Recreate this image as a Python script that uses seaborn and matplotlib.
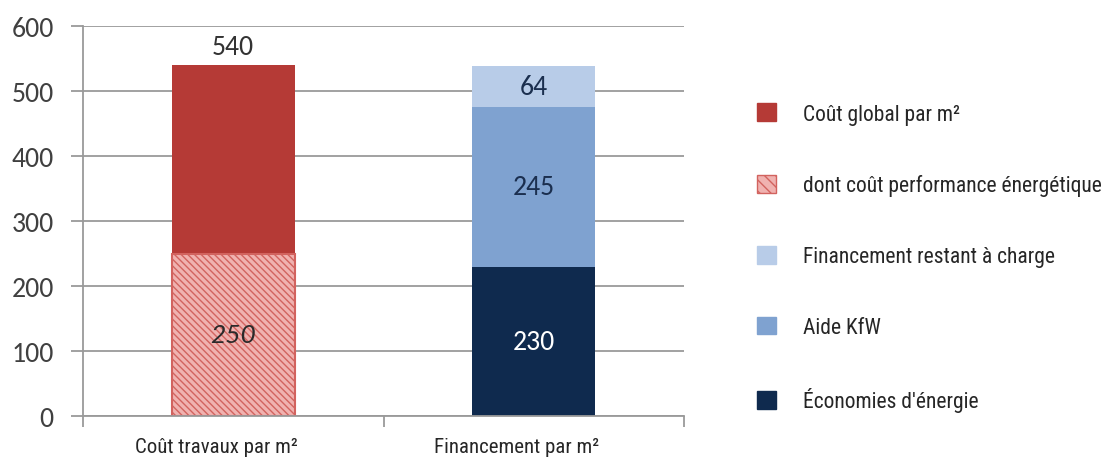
import matplotlib
matplotlib.use("Agg")
import matplotlib.pyplot as plt
from matplotlib.patches import Patch
from matplotlib.transforms import ScaledTranslation
import pandas as pd
import seaborn as sns

# ── data ──────────────────────────────────────────────
CATEGORIES = ["Coût travaux par m²", "Financement par m²"]
COST_LABELS = ["Coût global par m²", "dont coût performance énergétique"]
COST_VALUES = [540, 250]
FIN_LABELS = ["Économies d'énergie", "Aide KfW", "Financement restant à charge"]
FIN_VALUES = [230, 245, 64]
Y_TICKS = [0, 100, 200, 300, 400, 500, 600]

# ── style ─────────────────────────────────────────────
RED = "#B53A36"
HATCH_FILL = "#F0B2B0"
HATCH_LINE = "#D2635F"
FIN_COLORS = ["#0F2A4E", "#7FA2D0", "#B8CCE8"]
FIN_TEXT = ["white", "#1B2F4F", "#1B2F4F"]
GRID = "#9A9A9A"

sns.set_theme(style="white")
plt.rcParams["font.family"] = ["Carlito", "Lato", "DejaVu Sans"]
plt.rcParams["hatch.linewidth"] = 1.0
NARROW = ["Roboto Condensed", "Liberation Sans", "DejaVu Sans"]

fig = plt.figure(figsize=(11.08, 4.64), dpi=100)
ax = fig.add_axes([0.0749, 0.101, 0.5425, 0.841])

BAR_W = 0.41

# cost bar: total first, energy part drawn over it
sns.barplot(x=[CATEGORIES[0]], y=[COST_VALUES[0]], order=CATEGORIES, color=RED,
            saturation=1, width=BAR_W, linewidth=0, ax=ax)
sns.barplot(x=[CATEGORIES[0]], y=[COST_VALUES[1]], order=CATEGORIES, color=HATCH_FILL,
            saturation=1, width=BAR_W, edgecolor=HATCH_LINE, linewidth=1.5,
            hatch="\\\\\\\\\\", ax=ax)

# financing bar: cumulative heights, tallest drawn first
cum = pd.Series(FIN_VALUES).cumsum().tolist()
for i in reversed(range(len(FIN_VALUES))):
    sns.barplot(x=[CATEGORIES[1]], y=[cum[i]], order=CATEGORIES, color=FIN_COLORS[i],
                saturation=1, width=BAR_W, linewidth=0, ax=ax)

# value labels
ax.text(0, COST_VALUES[0] + 9, str(COST_VALUES[0]), ha="center", va="bottom",
        fontsize=20, color="#333333")
ax.text(0, COST_VALUES[1] / 2, str(COST_VALUES[1]), ha="center", va="center",
        fontsize=19, color="#2A2A2A", style="italic",
        family=["Lato", "Open Sans", "DejaVu Sans"])
bottoms = [0] + cum[:-1]
for v, b, c in zip(FIN_VALUES, bottoms, FIN_TEXT):
    ax.text(1, b + v / 2, str(v), ha="center", va="center", fontsize=20, color=c)

# axes
ax.set_xlim(-0.5, 1.5)
ax.set_ylim(0, 600)
ax.set_yticks(Y_TICKS)
ax.set_xlabel(""); ax.set_ylabel("")
ax.yaxis.grid(True, color=GRID, linewidth=1.3)
ax.set_axisbelow(True)
for s in ["top", "right"]:
    ax.spines[s].set_visible(False)
for s in ["left", "bottom"]:
    ax.spines[s].set_color(GRID)
    ax.spines[s].set_linewidth(1.3)
ax.tick_params(axis="y", left=True, length=9, width=1.3, color=GRID,
               labelsize=20, labelcolor="#404040", pad=12)
ax.set_xticks([-0.5, 0.5, 1.5], minor=True)
ax.tick_params(axis="x", which="minor", bottom=True, length=8, width=1.3, color=GRID)
ax.tick_params(axis="x", which="major", bottom=False, pad=9)
shift = ScaledTranslation(-0.17, 0, fig.dpi_scale_trans)
for lab in ax.get_xticklabels():
    lab.set_family(NARROW)
    lab.set_fontsize(15)
    lab.set_color("#262626")
    lab.set_transform(lab.get_transform() + shift)

# legend
handles = [
    Patch(facecolor=RED, edgecolor=RED, label=COST_LABELS[0]),
    Patch(facecolor=HATCH_FILL, edgecolor=HATCH_LINE, hatch="\\\\\\", label=COST_LABELS[1]),
    Patch(facecolor=FIN_COLORS[2], edgecolor=FIN_COLORS[2], label=FIN_LABELS[2]),
    Patch(facecolor=FIN_COLORS[1], edgecolor=FIN_COLORS[1], label=FIN_LABELS[1]),
    Patch(facecolor=FIN_COLORS[0], edgecolor=FIN_COLORS[0], label=FIN_LABELS[0]),
]
fig.legend(handles=handles, loc="center left", bbox_to_anchor=(0.683, 0.442),
           frameon=False, prop={"family": NARROW, "size": 15.5},
           handlelength=0.9, handleheight=0.9, handletextpad=1.25,
           labelspacing=2.3, borderpad=0, borderaxespad=0, labelcolor="#262626")

fig.savefig("out.png", dpi=100)
plt.close(fig)
